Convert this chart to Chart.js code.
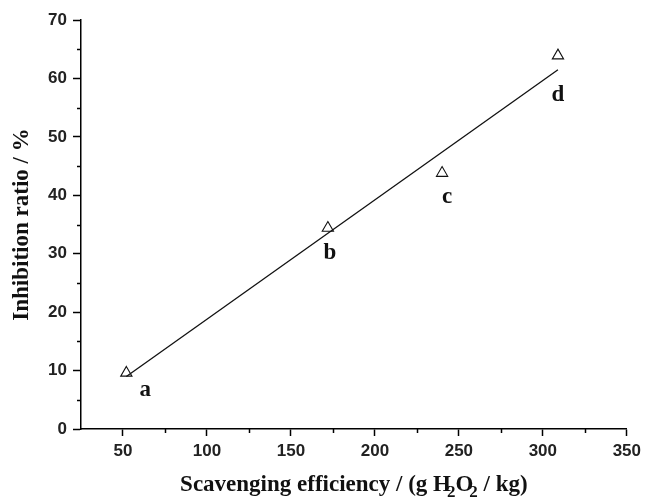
<!DOCTYPE html>
<html>
<head>
<meta charset="utf-8">
<script src="https://cdn.jsdelivr.net/npm/chart.js@4"></script>
<style>
    html, body { margin: 0; padding: 0; background: #fff; }
    #wrap { width: 646px; height: 504px; }
</style>
</head>
<body>
<div id="wrap"><canvas id="fitChart" width="646" height="504"></canvas></div>
<script>
const sampleNames = ['a', 'b', 'c', 'd'];
const scavenging = [52, 172, 240, 309];
const inhibition = [9.6, 34.4, 43.8, 63.9];

// Linear fit line end points
const fitX = [52, 309];
const fitY = [9.0, 61.5];

// Axis ticks
const xTicks = [50, 100, 150, 200, 250, 300, 350];
const xMinor = [75, 125, 175, 225, 275, 325];
const yTicks = [0, 10, 20, 30, 40, 50, 60, 70];
const yMinor = [5, 15, 25, 35, 45, 55, 65];

const tickFont = { family: 'Liberation Sans, Arial', size: 17, weight: 'bold' };
const serifBold = 'bold 23px "Liberation Serif", "Times New Roman", serif';

// Draws short minor ticks, sample letters and the x title (with subscripts)
const extrasPlugin = {
    id: 'extras',
    afterDraw(chart) {
        const ctx = chart.ctx;
        const xs = chart.scales.x;
        const ys = chart.scales.y;
        const area = chart.chartArea;

        ctx.save();
        ctx.strokeStyle = '#000';
        ctx.lineWidth = 1.5;
        xMinor.forEach(v => {
            const px = Math.round(xs.getPixelForValue(v)) + 0.5;
            ctx.beginPath();
            ctx.moveTo(px, area.bottom);
            ctx.lineTo(px, area.bottom + 4);
            ctx.stroke();
        });
        yMinor.forEach(v => {
            const py = Math.round(ys.getPixelForValue(v)) + 0.5;
            ctx.beginPath();
            ctx.moveTo(area.left, py);
            ctx.lineTo(area.left - 4, py);
            ctx.stroke();
        });

        // sample letters under each point
        const offsets = [[19, 17], [2, 25], [5, 24], [0, 39]];
        ctx.fillStyle = '#111';
        ctx.font = serifBold;
        ctx.textAlign = 'center';
        ctx.textBaseline = 'middle';
        const pts = chart.getDatasetMeta(1).data;
        pts.forEach((p, i) => {
            ctx.fillText(sampleNames[i], p.x + offsets[i][0], p.y + offsets[i][1]);
        });

        // x axis title: Scavenging efficiency / (g H2O2 / kg)
        const parts = [
            ['Scavenging efficiency / (g H', false],
            ['2', true],
            ['O', false],
            ['2', true],
            [' / kg)', false]
        ];
        const subFont = 'bold 17px "Liberation Serif", "Times New Roman", serif';
        let total = 0;
        parts.forEach(([t, sub]) => {
            ctx.font = sub ? subFont : serifBold;
            total += ctx.measureText(t).width - (sub ? 4 : 0);
        });
        let cx = (area.left + area.right) / 2 - total / 2;
        const baseY = 491;
        ctx.textAlign = 'left';
        ctx.textBaseline = 'alphabetic';
        parts.forEach(([t, sub]) => {
            ctx.font = sub ? subFont : serifBold;
            if (sub) cx -= 4;
            ctx.fillText(t, cx, sub ? baseY + 6 : baseY);
            cx += ctx.measureText(t).width;
        });
        ctx.restore();
    }
};

const ctx = document.getElementById('fitChart').getContext('2d');
new Chart(ctx, {
    type: 'scatter',
    data: {
        datasets: [
            {
                type: 'line',
                label: 'fit',
                data: fitX.map((x, i) => ({ x: x, y: fitY[i] })),
                borderColor: '#111',
                borderWidth: 1.3,
                pointRadius: 0,
                fill: false,
                tension: 0
            },
            {
                label: 'samples',
                data: scavenging.map((x, i) => ({ x: x, y: inhibition[i] })),
                pointStyle: 'triangle',
                pointRadius: 6.5,
                backgroundColor: '#fff',
                borderColor: '#111',
                borderWidth: 1.1
            }
        ]
    },
    options: {
        responsive: false,
        animation: false,
        layout: { padding: { top: 20, right: 14, left: 0, bottom: 0 } },
        plugins: {
            legend: { display: false },
            tooltip: { enabled: false }
        },
        scales: {
            x: {
                type: 'linear',
                min: 25,
                max: 350,
                afterBuildTicks: function(scale) {
                    scale.ticks = xTicks.map(v => ({ value: v }));
                },
                afterFit: function(scale) {
                    scale.height = 75;
                },
                grid: {
                    drawOnChartArea: false,
                    tickLength: 7,
                    tickColor: '#000',
                    tickWidth: 1.5
                },
                border: { color: '#000', width: 1.5 },
                ticks: {
                    font: tickFont,
                    color: '#222',
                    padding: 5,
                    maxRotation: 0
                }
            },
            y: {
                type: 'linear',
                min: 0,
                max: 70,
                afterBuildTicks: function(scale) {
                    scale.ticks = yTicks.map(v => ({ value: v }));
                },
                afterFit: function(scale) {
                    scale.width = 81;
                },
                grid: {
                    drawOnChartArea: false,
                    tickLength: 8,
                    tickColor: '#000',
                    tickWidth: 1.5
                },
                border: { color: '#000', width: 1.5 },
                ticks: {
                    font: tickFont,
                    color: '#222',
                    padding: 6
                },
                title: {
                    display: true,
                    text: 'Inhibition ratio / %',
                    font: { family: 'Liberation Serif', size: 23, weight: 'bold' },
                    color: '#111',
                    padding: { top: 8, bottom: 0 }
                }
            }
        }
    },
    plugins: [extrasPlugin]
});
</script>
</body>
</html>
